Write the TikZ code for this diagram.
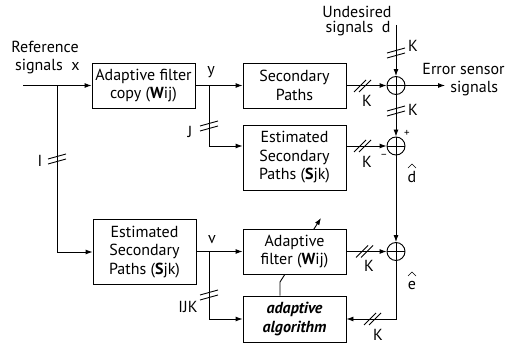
\documentclass[tikz,border=0pt]{standalone}
\usepackage{fontspec}
\setmainfont{PT Sans}
\usetikzlibrary{arrows.meta}
\begin{document}
\begin{tikzpicture}[x=1pt,y=-1pt, line width=0.9pt,
  txt/.style={font=\fontsize{16}{18.5}\selectfont},
  box/.style={draw, fill=white, minimum width=103pt, align=center, inner sep=0pt, txt},
  sum/.style={draw, circle, minimum size=18pt, inner sep=0pt},
  lbl/.style={inner sep=0pt, txt},
  arr/.style={-{Latex[length=7pt,width=5pt]}},
  htk/.pic={\draw (-8,6) -- (4,-6) (-3,6) -- (9,-6);},
  vtk/.pic={\draw (-9,1) -- (9,-4) (-9,6) -- (9,1);},
  hat/.pic={\draw[line width=0.7pt] (-4,0) -- (0,-4) -- (4,0);},
]
\useasboundingbox (0,0) rectangle (515,345);

% boxes
\node[box, minimum height=45pt] (copy) at (143.5,85.5) {Adaptive filter\\copy (\textbf{W}ij)};
\node[box, minimum height=45pt] (sec) at (294.5,85.5) {Secondary\\Paths};
\node[box, minimum height=65pt] (esp1) at (294.5,157.5) {Estimated\\Secondary\\Paths (\textbf{S}jk)};
\node[box, minimum height=65pt] (esp2) at (144.5,252) {Estimated\\Secondary\\Paths (\textbf{S}jk)};
\node[box, minimum height=46pt, font=\fontsize{16}{18.5}\selectfont\bfseries\itshape] (alg) at (294.5,319) {adaptive\\algorithm};

% adaptive arrow behind the filter box
\coordinate (a1) at (280,282);
\coordinate (a2) at (321,218);
\draw[arr] (alg.north -| a1) -- (a1) -- (a2);
\node[box, minimum height=45pt] (af) at (294.5,251.5) {Adaptive\\filter (\textbf{W}ij)};

% summing junctions
\node[sum] (s1) at (396,85.5) {};
\node[sum] (s2) at (396,146) {};
\node[sum] (s3) at (396,251.5) {};
\foreach \s in {s1,s2,s3}{\draw (\s.north) -- (\s.south) (\s.west) -- (\s.east);}

% coordinates
\coordinate (in) at (23,85.5);
\coordinate (bx) at (57,85.5);
\coordinate (yb) at (209,85.5);
\coordinate (vb) at (209,251.5);
\coordinate (dtop) at (396,25);
\coordinate (out) at (445,85.5);

% connectors
\draw[arr] (in) -- (copy.west);
\draw[arr] (bx) |- (esp2.west);
\draw[arr] (copy.east) -- (sec.west);
\draw[arr] (yb) |- (esp1.west |- s2);
\draw[arr] (sec.east) -- (s1.west);
\draw[arr] (esp1.east |- s2) -- (s2.west);
\draw[arr] (dtop) -- (s1.north);
\draw[arr] (s1.east) -- (out);
\draw[arr] (s1.south) -- (s2.north);
\draw[arr] (s2.south) -- (s3.north);
\draw[arr] (esp2.east |- af) -- (af.west);
\draw[arr] (vb) |- (alg.west);
\draw[arr] (af.east) -- (s3.west);
\draw[arr] (s3.south) |- (alg.east);

% tick marks
\pic at (57,158) {vtk};
\pic at (209,125) {vtk};
\pic at (209,294) {vtk};
\pic at (396,52) {vtk};
\pic at (396,110) {vtk};
\pic at (362,86) {htk};
\pic at (362,146) {htk};
\pic at (364,251.5) {htk};
\pic at (372,319) {htk};

% labels
\node[lbl] (lref) at (45,47) {Reference};
\node[lbl, anchor=east] (lsig) at (80,67) {signals\ \ x};
\node[lbl] (lund) at (357,12) {Undesired};
\node[lbl, anchor=east] (lsd) at (391,29) {signals\ \ d};
\node[lbl, anchor=west] (lerr) at (422,69) {Error sensor};
\node[lbl, anchor=west] (lesig) at (450,89) {signals};
\node[lbl] (ly) at (211,72) {y};
\node[lbl] (lv) at (212,240) {v};
\node[lbl] (lI) at (40,161) {I};
\node[lbl] (lJ) at (190,132) {J};
\node[lbl] (lIJK) at (188,307) {IJK};
\node[lbl] (k1) at (413,46) {K};
\node[lbl] (k2) at (367,101) {K};
\node[lbl] (k3) at (413,110) {K};
\node[lbl] (k4) at (367,162) {K};
\node[lbl] (k5) at (369,266) {K};
\node[lbl] (k6) at (378,335) {K};
\node[inner sep=0pt, font=\fontsize{11}{12}\selectfont] (lp) at (407,133) {+};
\node[inner sep=0pt, font=\fontsize{11}{12}\selectfont] (lm) at (384,156) {−};
\node[lbl] (ldh) at (412,177) {d};
\pic at (412,168) {hat};
\node[lbl] (leh) at (412,285) {e};
\pic at (412,276) {hat};
\end{tikzpicture}
\end{document}
